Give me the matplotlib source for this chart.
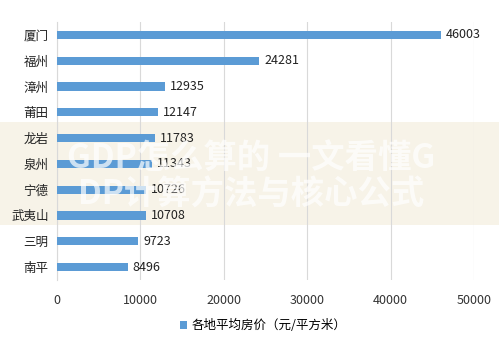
import matplotlib
matplotlib.use("Agg")
import matplotlib.pyplot as plt
from matplotlib.patches import Rectangle

plt.rcParams['font.family'] = ['Noto Sans CJK SC', 'DejaVu Sans']

cities = ["厦门", "福州", "漳州", "莆田", "龙岩", "泉州", "宁德", "武夷山", "三明", "南平"]
prices = [46003, 24281, 12935, 12147, 11783, 11343, 10726, 10708, 9723, 8496]
xticks = [0, 10000, 20000, 30000, 40000, 50000]
series_name = "各地平均房价（元/平方米）"
watermark_1 = "GDP怎么算的 一文看懂G"
watermark_2 = "DP计算方法与核心公式"

fig = plt.figure(figsize=(4.99, 3.49), dpi=100)
# watermark band (behind the chart)
band = Rectangle((0, 1 - 225 / 349), 1, (225 - 122) / 349, transform=fig.transFigure,
                 facecolor="#f7f3e8", zorder=-5, edgecolor="none")
fig.patches.append(band)

ax = fig.add_axes([0.114, 0.198, 0.836, 0.739])
ax.set_zorder(1)
ax.patch.set_alpha(0)

color = "#5B9BD5"
ypos = list(range(len(cities)))
ax.barh(ypos, prices, height=0.32, color=color, label=series_name, zorder=3)
for y, v in zip(ypos, prices):
    ax.text(v + 600, y, str(v), va="center", ha="left", fontsize=9, color="#222222", zorder=4)

ax.set_yticks(ypos)
ax.set_yticklabels(cities, fontsize=9, color="#222222")
ax.set_ylim(len(cities) - 0.5, -0.5)
ax.set_xlim(0, 50000)
ax.set_xticks(xticks)
ax.set_xticklabels([str(t) for t in xticks], fontsize=9, color="#333333")
ax.tick_params(axis="both", length=0, pad=6)
ax.tick_params(axis="x", pad=10)
ax.grid(axis="x", color="#d9d9d9", linewidth=0.8, zorder=0)
for s in ["top", "right", "bottom"]:
    ax.spines[s].set_visible(False)
ax.spines["left"].set_color("#d9d9d9")

fig.legend(loc="center", bbox_to_anchor=(0.527, 0.067), frameon=False, fontsize=9,
           handlelength=0.6, handleheight=0.6, handletextpad=0.3)

fig.text(67 / 499, 1 - 158 / 349, watermark_1, fontsize=24, fontweight="bold", color="white",
         alpha=0.7, va="center", ha="left", zorder=11)
fig.text(78 / 499, 1 - 195 / 349, watermark_2, fontsize=24, fontweight="bold", color="white",
         alpha=0.7, va="center", ha="left", zorder=11)

fig.savefig("out.png", dpi=100)
